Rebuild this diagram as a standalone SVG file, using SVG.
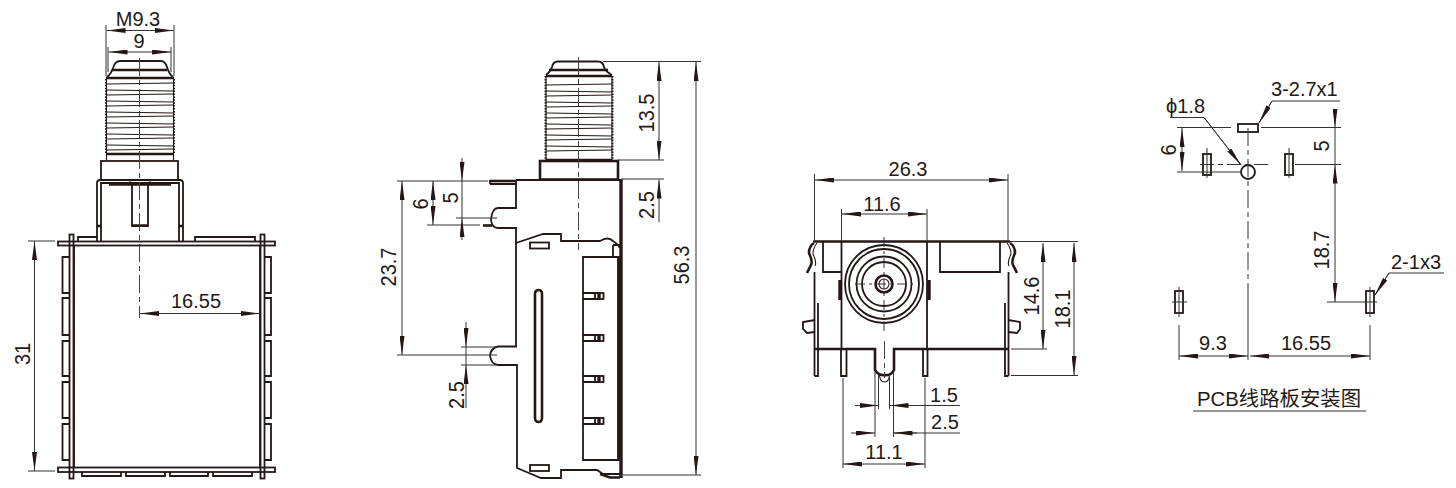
<svg xmlns="http://www.w3.org/2000/svg" width="1456" height="488" viewBox="0 0 1456 488">
<style>
text{font-family:"Liberation Sans","Noto Sans CJK SC",sans-serif;font-size:20px;fill:#231815}
.m{text-anchor:middle}
path,line,rect,circle,use{fill:none;stroke:#231815}
.o{stroke-width:1.8}
.t{stroke-width:2.6}
.b{stroke-width:3.4}
.n{stroke-width:1.1}
.d{stroke-width:1;stroke:#333}
.c{stroke-width:1;stroke:#444;stroke-dasharray:18 4 5 4}
.a{marker-end:url(#ah)}
.aa{marker-start:url(#ah);marker-end:url(#ah)}
.th{stroke-width:2;stroke-dasharray:1.5 1.4}
</style>
<defs>
<marker id="ah" viewBox="0 0 19 5" refX="19" refY="2.500" markerWidth="19" markerHeight="5" markerUnits="userSpaceOnUse" orient="auto-start-reverse"><path d="M0,0L19,2.500L0,5z" style="fill:#231815;stroke:none"/></marker>
<g id="threads">
<path class="n" d="M0,0l66,-1M0,6l66,1M0,11l66,-1M0,17l66,1M0,22l66,-1M0,28l66,1M0,33l66,-1M0,39l66,1M0,44l66,-1M0,50l66,1M0,55l66,-1M0,61l66,1M0,66l66,-1"/>
</g>
<g id="pin"><path class="o" d="M0,0h17M0,6h17"/><rect class="o" x="12" y="0" width="8.500" height="6"/><path class="b" d="M16,.5v5"/></g>
</defs>

<g id="front-view">
<path class="o" d="M107,77Q111,74 113,68Q115,61 120,61H161Q165,61 167,67Q169,74 173,77"/>
<path class="t" d="M112,70H167M106,78H174M107,154H173"/>
<use href="#threads" x="107" y="84"/>
<path class="n" d="M106.500,79V160M173.500,79V160"/>
<path class="th" d="M106,79V154M174,79V154"/>
<rect class="o" x="101" y="161" width="77" height="19"/>
<path class="o" d="M97,241V183Q97,180 100,180H180Q183,180 183,183V241M101,241V183H179V241"/>
<path class="t" d="M109,184.500H171"/>
<rect class="n" x="130" y="180" width="20" height="3"/>
<path class="o" d="M132,185V226H148V185"/><path class="t" d="M132,225.500H148M97,226H101M179,226H183"/>
<path class="c" d="M139.500,58V318"/>
<rect class="o" x="58" y="241.500" width="217" height="4"/>
<rect class="o" x="58" y="467.500" width="217" height="4.500"/>
<path class="o" d="M74,245V468M260,245V468"/>
<rect class="o" x="69.500" y="234.500" width="4" height="244"/>
<rect class="o" x="260.500" y="234.500" width="4" height="244"/>
<path class="o" d="M78,241V237H97M195,241V237H255V241"/>
<path class="o" d="M69,257H62.500V293H69M69,298H62.500V335H69M69,341H62.500V376H69M69,382H62.500V418H69M69,424H62.500V460H69"/>
<path class="o" d="M265,257H271V293H265M265,298H271V335H265M265,341H271V376H265M265,382H271V418H265M265,424H271V460H265"/>
<path class="o" d="M82,472V476H121V472M126,472V476H165V472M170,472V476H208V472M213,472V476H252V472"/>
<path class="d" d="M106,25V76M174,25V76M108,47V72M171,47V72M28,241H55M28,471H55"/>
<line class="d aa" x1="106.500" y1="30.500" x2="173.500" y2="30.500"/>
<line class="d aa" x1="108.500" y1="52" x2="171" y2="52"/>
<line class="d aa" x1="34.500" y1="241" x2="34.500" y2="471"/>
<line class="d aa" x1="140" y1="313.500" x2="260" y2="313.500"/>
<text class="m" x="138" y="26">M9.3</text>
<text class="m" x="139" y="47.500">9</text>
<text class="m" x="196" y="307.500">16.55</text>
<text class="m" transform="translate(29.500,354) rotate(-90) scale(1,1.1)">31</text>
</g>

<g id="side-view">
<path class="o" d="M546,75Q551,71 552,67Q553,61.500 558,61.500H598Q603,61.500 604,67Q605,71 612,75"/>
<path class="t" d="M549,70H608M546,76H612M546,160H612"/>
<use href="#threads" x="546" y="85"/>
<path class="n" d="M546,76V160M612,76V160"/>
<path class="th" d="M545.500,76V159M612.500,76V159"/>
<rect class="t" x="540" y="161" width="78" height="18.500"/>
<path class="c" d="M578.500,57V250"/>
<path class="o" d="M516,180H621M516,180V208H498Q492,208 491,220Q492,228 498,228H516V346"/>
<path class="t" d="M490,181H516"/><path class="o" d="M490,184H516M490,180V184"/>
<path class="t" d="M483,225.500H492"/>
<path class="b" d="M621,179V478"/>
<path class="o" d="M516,243L543,234H561V241H600Q608,236 613,241Q618,244 620,248"/>
<rect class="o" x="530" y="242.500" width="19" height="6"/>
<path class="o" d="M613,245V257M613,245H620M583,257H619V460H583ZM618,257V460"/>
<use href="#pin" x="583" y="293"/><use href="#pin" x="583" y="335"/><use href="#pin" x="583" y="376"/><use href="#pin" x="583" y="418"/>
<path class="o" d="M517,346.500H498Q491,348 490,355.500Q491,364 498,365H517V468L541,478H561V470H597L603,474L620,474"/>
<path class="t" d="M600,474L610,477.500H620"/>
<rect class="t" x="535" y="290" width="7" height="132" rx="3.500"/>
<rect class="o" x="530" y="465" width="19" height="6"/>
<path class="d" d="M603,61.500H701M618,160H664M621,179H664M620,475H701M397,181H488M427,225H480M456,218H497M397,355H497M461,347H498M461,365H498"/>
<line class="d aa" x1="696" y1="62" x2="696" y2="475"/>
<line class="d aa" x1="659" y1="62" x2="659" y2="160"/>
<line class="d a" x1="659" y1="222" x2="659" y2="179.500"/>
<line class="d a" x1="462" y1="158" x2="462" y2="181"/>
<line class="d a" x1="462" y1="240" x2="462" y2="218"/>
<line class="d" x1="462" y1="181" x2="462" y2="218"/>
<line class="d aa" x1="433" y1="181" x2="433" y2="225"/>
<line class="d aa" x1="402" y1="181" x2="402" y2="355"/>
<line class="d a" x1="466" y1="322" x2="466" y2="347"/>
<line class="d a" x1="466" y1="408" x2="466" y2="365"/>
<line class="d" x1="466" y1="347" x2="466" y2="365"/>
<text class="m" transform="translate(689,265) rotate(-90) scale(1,1.1)">56.3</text>
<text class="m" transform="translate(654,113) rotate(-90) scale(1,1.1)">13.5</text>
<text class="m" transform="translate(654,205) rotate(-90) scale(1,1.1)">2.5</text>
<text class="m" transform="translate(428,204) rotate(-90) scale(1,1.1)">6</text>
<text class="m" transform="translate(458,198) rotate(-90) scale(1,1.1)">5</text>
<text class="m" transform="translate(396,267) rotate(-90) scale(1,1.1)">23.7</text>
<text class="m" transform="translate(464,395) rotate(-90) scale(1,1.1)">2.5</text>
</g>

<g id="rear-view">
<path class="t" d="M813,241.500H1010"/>
<path class="t" d="M814,243Q809,246 809,253Q813,262 811,265L807,273M1010,243Q1015,246 1015,253Q1011,262 1013,265L1017,273"/>
<path class="n" d="M817,243Q813,248 813,254Q817,262 815,266M1007,243Q1011,248 1011,254Q1007,262 1009,266"/>
<path class="o" d="M823,242V272H841M940,242V272H1000V242M814.500,272V376M818,303V376H814.500M1008.500,272V376M1005,303V376H1008.500"/>
<path class="o" d="M841.500,241V349M927,241V349"/>
<path class="b" d="M840,280V300M929,280V300"/>
<circle class="o" cx="884" cy="284" r="39"/><circle class="o" cx="884" cy="284" r="35"/><circle class="o" cx="884" cy="284" r="27.500"/><circle class="o" cx="884" cy="284" r="22"/>
<circle class="t" cx="884" cy="284" r="8.500"/><circle class="n" cx="884" cy="284" r="5"/>
<path class="d" d="M884,237V332M855,284H913" stroke-dasharray="10 4 3 4"/>
<path class="o" d="M815,320L803,322V329L807,333L815,332M1008,320L1020,322V329L1017,333L1008,332"/>
<path class="t" d="M814,349H875V370Q879,376 884.500,375Q891,376 894,370V349H1008"/>
<path class="o" d="M841,349V376H846.500V349M923,349V376H927.500V349"/>
<path class="n" d="M879.500,375Q880,382 884.500,382Q889,382 889.500,375"/>
<path class="c" d="M884.500,341V378"/>
<path class="d" d="M814.500,174V240M1008,174V240M841.500,209V241M927,209V241M1010,241.500H1078M1011,349H1047M1011,375.500H1078M878.500,375V409M889.500,375V409M875,372V437M893.500,372V437M843,378V468M925,378V468M889.500,405.500H960M893.500,433H960"/>
<line class="d aa" x1="815" y1="180" x2="1008" y2="180"/>
<line class="d aa" x1="842" y1="214" x2="927" y2="214"/>
<line class="d aa" x1="1043" y1="243" x2="1043" y2="349"/>
<line class="d aa" x1="1074" y1="243" x2="1074" y2="375"/>
<line class="d a" x1="855" y1="405.500" x2="878.500" y2="405.500"/>
<line class="d a" x1="913" y1="405.500" x2="889.500" y2="405.500"/>
<line class="d a" x1="851" y1="433" x2="875" y2="433"/>
<line class="d a" x1="917" y1="433" x2="893.500" y2="433"/>
<line class="d aa" x1="843" y1="464" x2="925" y2="464"/>
<text class="m" x="908" y="176">26.3</text>
<text class="m" x="882" y="211">11.6</text>
<text class="m" x="944" y="402">1.5</text>
<text class="m" x="945" y="429">2.5</text>
<text class="m" x="884" y="459">11.1</text>
<text class="m" transform="translate(1039,296) rotate(-90) scale(1,1.1)">14.6</text>
<text class="m" transform="translate(1070,309) rotate(-90) scale(1,1.1)">18.1</text>
</g>

<g id="pcb-layout">
<rect class="o" x="1238" y="124" width="20" height="8"/>
<rect class="o" x="1203" y="154" width="8" height="21"/>
<rect class="o" x="1285" y="154" width="8" height="21"/>
<circle class="o" cx="1248" cy="172" r="7"/>
<rect class="o" x="1175" y="291" width="8" height="22"/>
<rect class="o" x="1366" y="291" width="8" height="22"/>
<path class="d" d="M1248,128V291" stroke-dasharray="18 4 5 4"/>
<path class="d" d="M1248,291V360M1177,127.500H1231M1261,127.500H1341M1295,164.500H1341M1177,172H1241M1327,302H1377M1172,302H1187M1207,148V178M1289,148V178M1179,287V317M1370,287V317M1179,325V360M1370,325V360"/>
<path class="d" d="M1200,164.500H1270" stroke-dasharray="14 4 5 4"/>
<path class="d" d="M1170,117.500H1204L1241,165"/>
<path class="d" d="M1340,101H1272L1259,123"/>
<path class="d" d="M1444,273H1389L1375,295"/>
<line class="d a" x1="1272" y1="101" x2="1259" y2="123"/>
<line class="d a" x1="1204" y1="117.500" x2="1241" y2="165"/>
<line class="d a" x1="1389" y1="273" x2="1375" y2="295"/>
<line class="d aa" x1="1182" y1="128" x2="1182" y2="171"/>
<line class="d a" x1="1335" y1="110" x2="1335" y2="127.500"/>
<line class="d aa" x1="1335" y1="164.500" x2="1335" y2="302"/>
<line class="d" x1="1335" y1="127.500" x2="1335" y2="164.500"/>
<line class="d aa" x1="1179" y1="356" x2="1248" y2="356"/>
<line class="d aa" x1="1250" y1="356" x2="1370" y2="356"/>
<path class="d" d="M1193,411H1366"/>
<text x="1271" y="96">3-2.7x1</text>
<text x="1166" y="113">ϕ1.8</text>
<text x="1391" y="269">2-1x3</text>
<text class="m" x="1213" y="350">9.3</text>
<text class="m" x="1306" y="350">16.55</text>
<text x="1197" y="406" textLength="164" lengthAdjust="spacingAndGlyphs">PCB线路板安装图</text>
<text class="m" transform="translate(1176,150) rotate(-90) scale(1,1.1)">6</text>
<text class="m" transform="translate(1329,146) rotate(-90) scale(1,1.1)">5</text>
<text class="m" transform="translate(1329,250) rotate(-90) scale(1,1.1)">18.7</text>
</g>
</svg>
